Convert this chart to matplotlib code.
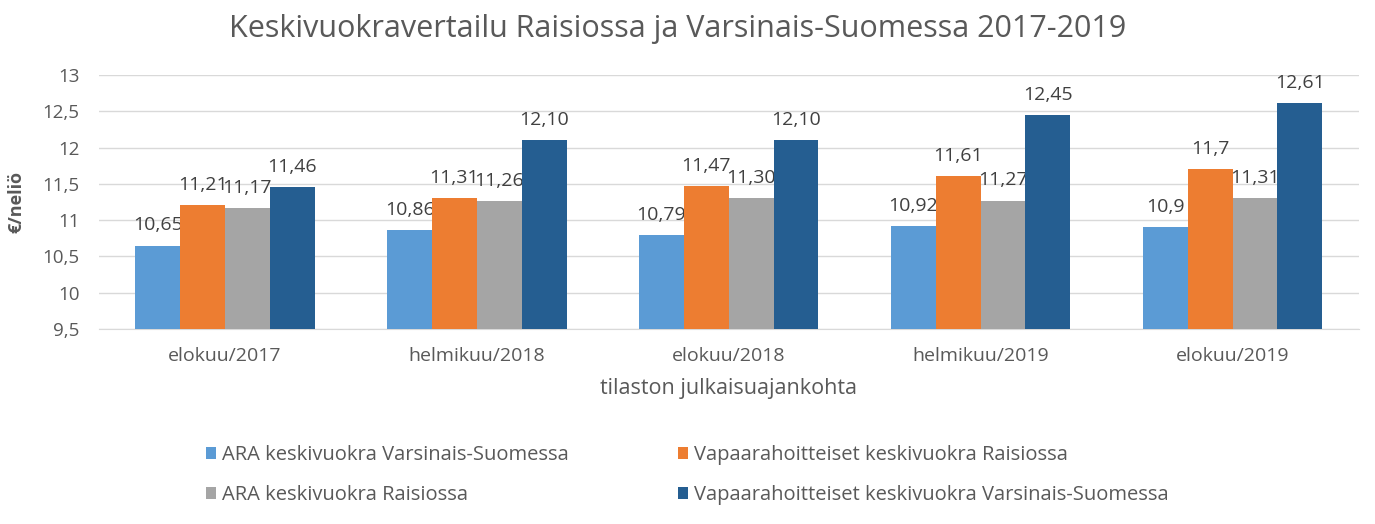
import numpy as np
import matplotlib.pyplot as plt

plt.rcParams['font.family'] = ['Open Sans', 'DejaVu Sans']

categories = ["elokuu/2017", "helmikuu/2018", "elokuu/2018", "helmikuu/2019", "elokuu/2019"]
series_names = [
    "ARA keskivuokra Varsinais-Suomessa",
    "Vapaarahoitteiset keskivuokra Raisiossa",
    "ARA keskivuokra Raisiossa",
    "Vapaarahoitteiset keskivuokra Varsinais-Suomessa",
]
ara_vs = [10.65, 10.86, 10.79, 10.92, 10.9]
vapaa_raisio = [11.21, 11.31, 11.47, 11.61, 11.7]
ara_raisio = [11.17, 11.26, 11.30, 11.27, 11.31]
vapaa_vs = [11.46, 12.10, 12.10, 12.45, 12.61]
labels = [
    ["10,65", "10,86", "10,79", "10,92", "10,9"],
    ["11,21", "11,31", "11,47", "11,61", "11,7"],
    ["11,17", "11,26", "11,30", "11,27", "11,31"],
    ["11,46", "12,10", "12,10", "12,45", "12,61"],
]
yticks = [9.5, 10, 10.5, 11, 11.5, 12, 12.5, 13]
ytick_labels = ["9,5", "10", "10,5", "11", "11,5", "12", "12,5", "13"]

colors = ["#5B9BD5", "#ED7D31", "#A5A5A5", "#255E91"]
text_col = "#595959"

fig = plt.figure(figsize=(13.75, 5.24), dpi=100)
ax = fig.add_axes([0.072, 0.372, 0.916, 0.485])

x = np.arange(len(categories))
w = 0.178
all_series = [ara_vs, vapaa_raisio, ara_raisio, vapaa_vs]
for i, vals in enumerate(all_series):
    pos = x + (i - 1.5) * w
    ax.bar(pos, np.array(vals) - 9.5, width=w, bottom=9.5, color=colors[i],
           label=series_names[i], zorder=3)
    for xp, v, lab in zip(pos, vals, labels[i]):
        ax.annotate(lab, (xp, v), xytext=(0, 8), textcoords="offset points",
                    ha="center", va="bottom", fontsize=14, color="#404040")

ax.set_ylim(9.5, 13)
ax.set_xlim(-0.5, len(categories) - 0.5)
ax.set_yticks(yticks)
ax.set_yticklabels(ytick_labels)
ax.set_xticks(x)
ax.set_xticklabels(categories)
ax.yaxis.grid(True, color="#D9D9D9", linewidth=1, zorder=0)
for s in ["top", "right", "left"]:
    ax.spines[s].set_visible(False)
ax.spines["bottom"].set_color("#D9D9D9")
ax.tick_params(axis="y", length=0, labelsize=13.5, colors=text_col, pad=14)
ax.tick_params(axis="x", length=0, labelsize=14, colors=text_col, pad=13)

ax.set_ylabel("€/neliö", fontsize=13, color=text_col, labelpad=12, fontweight="bold")
ax.set_xlabel("tilaston julkaisuajankohta", fontsize=15.5, color=text_col, labelpad=9)
fig.text(0.493, 0.945, "Keskivuokravertailu Raisiossa ja Varsinais-Suomessa 2017-2019",
         fontsize=22, color=text_col, ha="center", va="center")

handles, lbls = ax.get_legend_handles_labels()
order = [0, 2, 1, 3]
fig.legend([handles[k] for k in order], [lbls[k] for k in order], ncol=2,
           loc="center", bbox_to_anchor=(0.5, 0.093), frameon=False,
           fontsize=14.5, labelcolor=text_col, handlelength=0.5, handleheight=0.5,
           handletextpad=0.3, columnspacing=5.4, labelspacing=1.0)

fig.savefig("out.png", dpi=100)
